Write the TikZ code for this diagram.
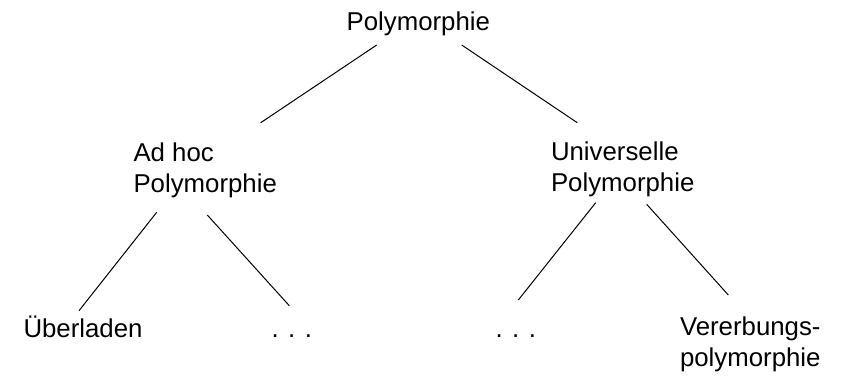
\documentclass[tikz,border=0pt]{standalone}
\usepackage{fontspec}
\setmainfont{Liberation Sans}
\begin{document}
\begin{tikzpicture}[x=0.5pt,y=-0.5pt,
  lbl/.style={inner sep=0pt,outer sep=0pt,font=\fontsize{12.9pt}{15.5pt}\selectfont,align=left},
  edge/.style={line width=0.5pt,black}]
\useasboundingbox (0,0) rectangle (854,376);
% nodes (base anchor = baseline of the last line)
\node[lbl,anchor=base] (root) at (418.3,30.5) {Polymorphie};
\node[lbl,anchor=base west] (adhoc) at (133.5,192.3) {Ad hoc\\Polymorphie};
\node[lbl,anchor=base west] (univ) at (551,191.7) {Universelle\\Polymorphie};
\node[lbl,anchor=base west] (ueber) at (23.5,337.3) {Überladen};
\node[lbl,anchor=base west] (dotsl) at (271.5,337.3) {. . .};
\node[lbl,anchor=base west] (dotsr) at (495.5,337.3) {. . .};
\node[lbl,anchor=base west] (vererb) at (680,366.5) {Vererbungs-\\polymorphie};
% connector ends
\coordinate (r1) at (376.7,45);   \coordinate (a1) at (260.7,122.7);
\coordinate (r2) at (461.7,45);   \coordinate (u1) at (577.3,122.7);
\coordinate (a2) at (156.7,212.3); \coordinate (ue1) at (79,310.7);
\coordinate (a3) at (207.3,215);   \coordinate (dl1) at (289.3,305.7);
\coordinate (u2) at (595.7,202.7); \coordinate (dr1) at (518.3,300);
\coordinate (u3) at (646.7,204.3); \coordinate (v1) at (728.3,295);
\draw[edge] (r1) -- (a1);
\draw[edge] (r2) -- (u1);
\draw[edge] (a2) -- (ue1);
\draw[edge] (a3) -- (dl1);
\draw[edge] (u2) -- (dr1);
\draw[edge] (u3) -- (v1);
\end{tikzpicture}
\end{document}
